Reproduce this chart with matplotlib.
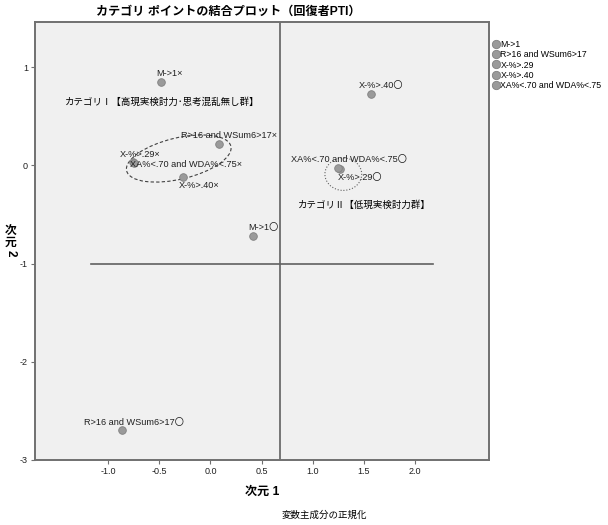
import matplotlib
matplotlib.use('Agg')
import matplotlib.pyplot as plt
from matplotlib.patches import Ellipse
from matplotlib.lines import Line2D

plt.rcParams['font.family'] = ['Liberation Sans', 'Noto Sans CJK JP', 'DejaVu Sans']
plt.rcParams['axes.unicode_minus'] = False

categories = ['M->1', 'R>16 and WSum6>17', 'X-%>.29', 'X-%>.40', 'XA%<.70 and WDA%<.75']

# dimension 1 / dimension 2 for the two groups (x = group I, o = group II)
dim1_x = [-0.48, 0.08, -0.76, -0.27, -0.75]
dim2_x = [0.85, 0.22, 0.03, -0.12, 0.02]
dim1_o = [0.42, -0.87, 1.27, 1.57, 1.25]
dim2_o = [-0.72, -2.70, -0.04, 0.73, -0.03]

# label offsets in points (layout only)
off_x = [(-4, 6), (-27, 6), (-9, 6), (-3, -6), (-3, -1)]
off_o = [(-4, 6), (-27, 6), (-2, -6), (-9, 6), (-34, 6)]

fig = plt.figure(figsize=(6.08, 5.25), dpi=100)
ax = fig.add_axes([0.0576, 0.124, 0.7467, 0.834])
ax.set_facecolor('#f0f0f0')

pt_col = '#9a9a9a'
ax.scatter(dim1_x, dim2_x, s=30, color=pt_col, edgecolor='#808080', linewidth=0.6, zorder=3)
ax.scatter(dim1_o, dim2_o, s=30, color=pt_col, edgecolor='#808080', linewidth=0.6, zorder=3)

for i, c in enumerate(categories):
    ax.annotate(c + '×', (dim1_x[i], dim2_x[i]), xytext=off_x[i], textcoords='offset points',
                fontsize=6.6, color='#202020', va='center', ha='left')
    ax.annotate(c + '〇', (dim1_o[i], dim2_o[i]), xytext=off_o[i], textcoords='offset points',
                fontsize=6.6, color='#202020', va='center', ha='left')

# reference lines
ax.axvline(0.68, color='#606060', lw=1.2, zorder=1)
ax.plot([-1.17, 2.18], [-1.0, -1.0], color='#606060', lw=1.2, zorder=1)

# group outlines
ax.add_patch(Ellipse((-0.31, 0.07), 1.05, 0.42, angle=14, fill=False,
                     ls=(0, (3, 2)), lw=0.8, color='#404040'))
ax.add_patch(Ellipse((1.30, -0.09), 0.36, 0.33, fill=False,
                     ls=':', lw=0.8, color='#606060'))

ax.text(-1.42, 0.64, 'カテゴリⅠ【高現実検討力･思考混乱無し群】', fontsize=6.8, va='center')
ax.text(0.86, -0.40, 'カテゴリⅡ【低現実検討力群】', fontsize=6.8, va='center')

ax.set_xlim(-1.716, 2.725)
ax.set_ylim(-3.0, 1.46)
ax.set_xticks([-1.0, -0.5, 0.0, 0.5, 1.0, 1.5, 2.0])
ax.set_xticklabels(['-1.0', '-0.5', '0.0', '0.5', '1.0', '1.5', '2.0'])
ax.set_yticks([-3, -2, -1, 0, 1])
ax.tick_params(labelsize=6.5, length=3, color='#707070', pad=2, labelcolor='#202020')
for s in ax.spines.values():
    s.set_color('#707070')
    s.set_linewidth(1.4)

fig.text(0.375, 0.977, 'カテゴリ ポイントの結合プロット（回復者PTI）', fontsize=8.7,
         fontweight='bold', ha='center', va='center')
ax.set_xlabel('次元 1', fontsize=8.7, fontweight='bold', labelpad=7)
fig.text(0.017, 0.548, '次\n元', fontsize=8.5, fontweight='bold', ha='center', va='center', linespacing=1.0)
fig.text(0.017, 0.517, '2', fontsize=8.5, fontweight='bold', ha='center', va='center', rotation=-90)
fig.text(0.533, 0.019, '変数主成分の正規化', fontsize=6.8, ha='center', va='center')

handles = [Line2D([], [], marker='o', ls='', markersize=6, markerfacecolor=pt_col,
                  markeredgecolor='#808080', markeredgewidth=0.6) for _ in categories]
fig.legend(handles, categories, loc='upper left', bbox_to_anchor=(0.808, 0.924),
           frameon=False, fontsize=6.3, handletextpad=0.05, labelspacing=0.15,
           handlelength=1.0, borderaxespad=0, borderpad=0)

fig.savefig('out.png', dpi=100)
